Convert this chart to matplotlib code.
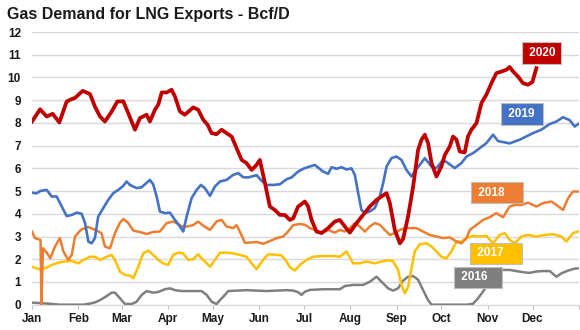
import matplotlib.pyplot as plt

plt.rcParams['font.family'] = ['Liberation Sans', 'DejaVu Sans']

# day of year (0 = Jan 1) and Bcf/D readings per year
days_2016 = [0, 5.4, 12, 18.7, 34.3, 38.8, 42.1, 45.5, 50, 53.3, 55.5, 58.9, 62.2, 66.7, 70, 73.4,
             76.7, 81.1, 84.5, 89, 92.3, 95.7, 100.1, 113.5, 116.9, 120.2, 123.5, 125.8, 129.1, 131.3,
             143.6, 157, 170.4, 174.8, 178.1, 180.4, 182.6, 186, 194.8, 206, 209.4, 214.9, 221.6,
             226.1, 230.6, 233.9, 238.3, 241.7, 245, 248.4, 251.7, 255.1, 258.4, 261.7, 265.1, 267.4,
             290.8, 295.2, 298.5, 301.9, 304.1, 306.4, 309.7, 315.3, 319.7, 324.2, 328.6, 333.1,
             337.6, 342, 346.5, 351, 354.3, 358.8, 363.2, 366]
bcfd_2016 = [0.09, 0.07, 0.04, 0.0, 0.0, 0.05, 0.1, 0.2, 0.38, 0.53, 0.53, 0.28, 0.03, 0.03, 0.13, 0.43,
             0.6, 0.53, 0.56, 0.68, 0.72, 0.64, 0.6, 0.6, 0.43, 0.13, 0.03, 0.2, 0.43, 0.6,
             0.64, 0.6, 0.64, 0.62, 0.55, 0.43, 0.57, 0.65, 0.68, 0.68, 0.82, 0.87, 0.87,
             1.01, 1.23, 1.01, 0.72, 0.62, 0.72, 1.06, 1.23, 1.26, 1.1, 0.65, 0.2, 0.0,
             0.0, 0.04, 0.28, 0.58, 0.8, 1.1, 1.4, 1.53, 1.53, 1.48, 1.43, 1.4,
             1.46, 1.48, 1.48, 1.23, 1.38, 1.5, 1.59, 1.6]

days_2017 = [0, 4.2, 8.7, 13.2, 17.6, 22.1, 26.6, 31, 34.3, 38.8, 42.1, 45.5, 50, 53.3, 55.5, 58.9,
             62.2, 65.6, 67.8, 71.1, 74.4, 77.8, 81.1, 84.5, 87.8, 91.2, 94.5, 97.9, 101.2, 104.5,
             107.9, 111.2, 113.5, 116.9, 119.1, 122.4, 125.8, 130.2, 134.6, 139.1, 143.6, 147,
             150.3, 154.7, 158.1, 162.5, 167, 170.4, 172.6, 175.9, 179.3, 183.7, 188.2, 194.8,
             201.5, 206, 210.5, 214.9, 219.4, 223.9, 229.4, 233.9, 238.3, 241.5, 245, 247.3, 249.5,
             251.7, 254, 256.2, 259.5, 264, 267.4, 270.7, 274, 277.3, 280.7, 284.1, 287.4, 290.8,
             295.2, 299.7, 304.1, 308.6, 313, 316.4, 319.7, 323.1, 327.6, 332, 337.6, 343.1, 348.7,
             354.3, 357.6, 362.1, 365.4]
bcfd_2017 = [1.67, 1.57, 1.6, 1.75, 1.85, 1.9, 1.93, 1.82, 1.97, 2.11, 2.11, 1.97, 2.11, 2.19, 1.97, 1.45,
             1.31, 1.28, 1.16, 1.67, 2.26, 2.38, 2.19, 1.97, 1.82, 1.75, 2.19, 2.29, 2.26, 1.97,
             2.0, 2.22, 2.04, 1.82, 1.67, 1.97, 2.29, 2.29, 2.26, 2.19, 2.11, 1.82,
             1.56, 1.97, 2.22, 2.2, 2.17, 1.9, 1.65, 1.5, 1.75, 1.97, 2.11, 2.14,
             2.14, 2.11, 2.34, 1.82, 1.82, 1.9, 1.82, 1.9, 1.95, 1.93, 1.53, 0.87, 0.5,
             0.77, 1.6, 2.34, 2.66, 2.7, 2.56, 2.34, 2.11, 2.04, 2.34, 2.78, 2.78, 2.93,
             3.03, 3.0, 3.03, 2.7, 3.07, 3.15, 2.85, 2.7, 3.0, 3.07, 3.0, 3.07, 3.1,
             3.0, 2.78, 3.15, 3.22]

days_2018 = [0, 2, 5.7, 6.3, 7.3, 9.8, 12.2, 15.4, 18.7, 21, 24.3, 26.6, 28.8, 32.8, 37.5, 42.1,
             46.5, 48.8, 52.2, 55.5, 58.9, 61.1, 64.4, 67.8, 72.2, 76.7, 81.1, 85.6, 90.1, 94.5,
             97.9, 100.1, 103.5, 107.9, 111.2, 114.6, 119.1, 123.5, 126.9, 130.2, 134.6, 136.9,
             139.1, 142.5, 147, 150.3, 154.7, 159.2, 163.7, 168.1, 171.4, 174.8, 179.3, 182.6, 186,
             189.3, 193.8, 198.2, 202.7, 206, 209.4, 212.7, 216.1, 219.4, 222.7, 226.1, 229.4,
             232.8, 236.1, 239.5, 242.8, 246.2, 249.5, 254, 257.3, 261.7, 266.2, 270.7, 275.1,
             279.6, 284.1, 287.4, 290.8, 293, 297.5, 301.9, 306.4, 310.8, 315.3, 319.7, 323.1,
             327.6, 332, 337.6, 342, 347.6, 351, 355.4, 358.8, 362.1, 366]
bcfd_2018 = [3.22, 2.93, 2.85, 0.0, 2.48, 2.3, 2.04, 2.56, 2.93, 2.34, 1.97, 2.2, 3.0, 3.3, 3.42, 3.3,
             3.15, 2.56, 2.48, 3.15, 3.61, 3.77, 3.6, 3.26, 3.2, 3.11, 3.2, 3.22, 3.59, 3.66,
             3.55, 3.44, 3.44, 3.5, 3.66, 3.48, 3.29, 3.66, 3.73, 3.44, 3.37, 3.5,
             3.22, 2.72, 2.74, 2.76, 2.68, 2.8, 2.93, 3.0, 3.22, 3.5, 3.55, 3.52, 3.37,
             3.29, 3.17, 3.29, 3.17, 3.29, 3.22, 3.37, 3.59, 3.44, 3.22, 3.44, 3.59,
             3.52, 3.29, 3.07, 3.15, 3.29, 3.37, 3.37, 3.37, 3.22, 3.07, 3.0, 2.93,
             2.96, 2.78, 2.7, 2.93, 3.29, 3.51, 3.73, 3.85, 4.03, 3.85, 4.32, 4.39,
             4.39, 4.49, 4.32, 4.47, 4.54, 4.39, 4.17, 4.69, 4.98, 4.98]

days_2019 = [0, 3.1, 5.4, 9.8, 13.2, 16.5, 19.9, 23.2, 26.6, 29.9, 33.2, 35.5, 37.7, 39.9, 42.1, 44.3,
             47.7, 51, 54.4, 57.7, 61.1, 63.3, 65.6, 70, 73.4, 78.9, 81.1, 83.4, 85.6, 89, 92.3,
             95.7, 99, 101.2, 103.5, 106.8, 110.2, 113, 115.7, 119.1, 122.4, 125.8, 130.2, 134.6,
             138, 141.3, 144.7, 150.3, 153.6, 157, 161.4, 165.9, 170.4, 173.7, 178.1, 182.6, 189.3,
             194.8, 198.2, 200.5, 203.8, 207.2, 210.5, 213.8, 216.1, 218.3, 220.5, 222.7, 226.1,
             229.4, 232.8, 235, 237.3, 240.6, 243.9, 247.3, 250.6, 254, 256.2, 262.9, 267.4, 270.7,
             275.1, 278.5, 282.9, 287.4, 290.8, 295.2, 299.7, 304.1, 308.6, 311.9, 319.7, 326.4,
             335.3, 340.9, 346.5, 351, 355.4, 359.9, 363.2, 366]
bcfd_2019 = [4.93, 4.9, 5.0, 5.05, 4.76, 4.76, 4.32, 3.9, 3.95, 4.05, 4.0, 3.59, 2.78, 2.7, 2.93, 3.88,
             4.25, 4.61, 4.91, 5.05, 5.23, 5.42, 5.27, 5.13, 5.17, 5.49, 5.3, 4.76, 4.1, 4.03, 4.05,
             3.73, 3.44, 3.22, 3.88, 4.69, 5.05, 5.27, 5.13, 4.79, 5.2, 5.42, 5.49, 5.71,
             5.79, 5.61, 5.6, 5.7, 5.46, 5.27, 5.27, 5.3, 5.52, 5.6, 5.86, 6.01, 6.15,
             5.86, 5.76, 6.05, 5.98, 6.05, 5.95, 6.0, 5.71, 4.91, 4.17, 4.03, 4.1,
             4.25, 4.76, 5.35, 6.08, 6.45, 6.52, 6.37, 5.93, 5.64, 5.86, 6.45, 6.08, 6.01,
             6.37, 6.23, 6.01, 6.23, 6.52, 6.67, 6.89, 7.11, 7.48, 7.2, 7.1, 7.26,
             7.55, 7.7, 7.95, 8.06, 8.25, 8.12, 7.84, 7.97]

days_2020 = [0, 5.4, 9.8, 13.8, 18.3, 23.2, 26.6, 28.8, 33.9, 38.8, 42.1, 45.5, 48.8, 53.3, 57.1, 61.1,
             64.4, 68.9, 72.2, 76.7, 78.9, 82.3, 84.5, 86.8, 90.1, 93.4, 95.7, 99, 102.3, 107.9,
             111.2, 114.6, 117.5, 120.2, 123.5, 126.9, 130.2, 133.6, 136.9, 140.3, 143.6, 147,
             150.3, 152.5, 155.9, 159.2, 162.5, 165.9, 169.2, 172.6, 174.8, 178.1, 182.6, 184.8,
             187.1, 190.4, 193.8, 198.2, 202.7, 206, 209.4, 212.7, 217.2, 221.6, 226.1, 230.6,
             233.9, 237.3, 239.5, 242.8, 246.2, 248.4, 251.7, 255.1, 258.4, 260.7, 262.9, 265.1,
             267.4, 270.7, 274, 276.3, 279.6, 281.8, 284.1, 286.3, 289.6, 291.8, 294.1, 297.5,
             300.8, 304.1, 307.5, 310.8, 314.2, 317.5, 319.7, 322, 325.3, 328.6, 332, 334.9, 337.6]
bcfd_2020 = [8.06, 8.6, 8.28, 8.4, 8.02, 8.94, 9.05, 9.1, 9.41, 9.27, 8.72, 8.28, 8.06, 8.5, 8.94, 8.95,
             8.43, 7.7, 8.21, 8.36, 8.06, 8.58, 8.8, 9.34, 9.34, 9.46, 9.16, 8.5, 8.36, 8.68,
             8.58, 8.14, 7.92, 7.55, 7.5, 7.7, 7.55, 7.4, 6.89, 6.37, 6.23, 5.93,
             6.15, 6.37, 5.35, 4.32, 4.17, 3.95, 3.95, 3.73, 3.8, 4.32, 4.54, 4.32,
             3.73, 3.22, 3.15, 3.37, 3.66, 3.73, 3.44, 3.17, 3.59, 3.95, 4.32, 4.61,
             4.76, 4.91, 4.47, 3.29, 2.7, 2.9, 3.88, 5.2, 6.81, 7.26, 7.48, 7.11,
             6.23, 5.64, 6.08, 6.59, 6.96, 7.4, 7.26, 6.74, 6.7, 7.4, 7.7, 7.99,
             8.87, 9.24, 9.75, 10.19, 10.26, 10.34, 10.46, 10.26, 10.04, 9.75, 9.68, 9.8, 10.41]

years = ['2016', '2017', '2018', '2019', '2020']
colors = ['#7F7F7F', '#FFC000', '#ED7D31', '#4472C4', '#C00000']
widths = [1.8, 1.8, 1.8, 1.9, 2.7]

month_starts = [0, 31, 60, 91, 121, 152, 182, 213, 244, 274, 305, 335, 366]
month_names = ['Jan', 'Feb', 'Mar', 'Apr', 'May', 'Jun', 'Jul', 'Aug', 'Sep', 'Oct', 'Nov', 'Dec', '']

# year tags: text anchor (day), vertical centre (Bcf/D), trailing blank width
tag_day = [285.4, 296.1, 296.8, 316.9, 330.9]
tag_val = [1.2, 2.26, 4.93, 8.39, 11.07]
tag_tail = ['   ', '    ', '    ', ' ', '']

fig = plt.figure(figsize=(5.8, 3.3), dpi=100)
ax = fig.add_axes([0.0552, 0.0767, 0.9428, 0.8263])

series = [(days_2016, bcfd_2016), (days_2017, bcfd_2017), (days_2018, bcfd_2018),
          (days_2019, bcfd_2019), (days_2020, bcfd_2020)]
for (d, v), c, w in zip(series, colors, widths):
    ax.plot(d, v, color=c, lw=w, solid_joinstyle='round', zorder=3)

for yr, c, dx, vy, tail in zip(years, colors, tag_day, tag_val, tag_tail):
    ax.text(dx, vy, ' ' + yr + tail, color='white', fontsize=8.5, fontweight='bold',
            ha='left', va='center', zorder=5,
            bbox=dict(boxstyle='square,pad=0.4', fc=c, ec='#BFBFBF', lw=0.8))

ax.set_xlim(0, 366)
ax.set_ylim(0, 12)
ax.set_yticks(range(0, 13))
ax.set_xticks(month_starts)
ax.set_xticklabels(month_names)
ax.grid(axis='y', color='#D9D9D9', lw=1)
ax.set_axisbelow(True)
for s in ['top', 'right', 'left']:
    ax.spines[s].set_visible(False)
ax.spines['bottom'].set_color('#D9D9D9')
ax.tick_params(axis='y', length=0, pad=8, labelsize=8.5, labelcolor='#1a1a1a')
ax.tick_params(axis='x', length=3, color='#BFBFBF', pad=3, labelsize=8.5, labelcolor='#1a1a1a')
for lbl in ax.get_xticklabels() + ax.get_yticklabels():
    lbl.set_fontweight('bold')

fig.text(0.012, 0.942, 'Gas Demand for LNG Exports - Bcf/D', fontsize=11.5, fontweight='bold',
         color='#1a1a1a', va='baseline')

fig.savefig('out.png', dpi=100)
